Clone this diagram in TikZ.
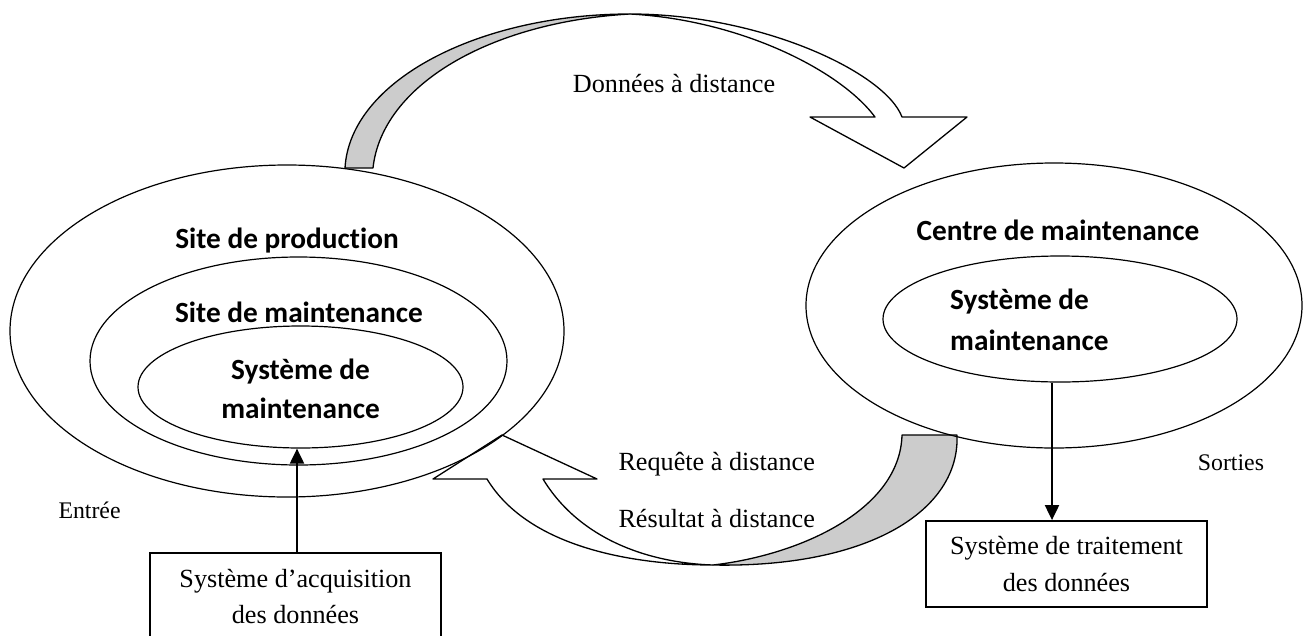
\documentclass[tikz,border=0pt]{standalone}
\usepackage{fontspec}
\setmainfont{Liberation Serif}
\newfontfamily\calibfont[Ligatures=NoCommon]{Carlito}
\usetikzlibrary{arrows.meta,shapes.geometric}
\definecolor{bandgray}{RGB}{204,204,204}
\begin{document}
\begin{tikzpicture}[x=1pt,y=-1pt,
  zone/.style={draw,ellipse,line width=1.2pt,inner sep=0pt},
  zonelabel/.style={font=\calibfont\bfseries\fontsize{29.3}{40}\selectfont,inner sep=0pt},
  note/.style={font=\fontsize{26.2}{36}\selectfont,inner sep=0pt},
  smallnote/.style={font=\fontsize{23.8}{30}\selectfont,inner sep=0pt},
  sysbox/.style={draw,line width=1.8pt,align=center,inner sep=0pt,font=\fontsize{26.2}{36.3}\selectfont},
  conn/.style={line width=2pt,-{Triangle[length=15pt,width=14pt]}},
  blockarrow/.style={line width=1.3pt,line join=round},
]
\useasboundingbox (0,0) rectangle (1303,635);

% block arrow "Données à distance": shaded back face, then front face with head
\filldraw[blockarrow,fill=bandgray] (345,168) .. controls (350,80) and (480,14) .. (630,14)
  .. controls (490,22) and (382,85) .. (373,168) -- cycle;
\filldraw[blockarrow,fill=white] (630,14) .. controls (760,14) and (885,72) .. (902,117)
  -- (967,117) -- (904,168) -- (810,117) -- (875,117)
  .. controls (840,70) and (740,20) .. (630,14) -- cycle;

% block arrow "Requête / Résultat à distance"
\filldraw[blockarrow,fill=white] (543,479) -- (597,479) -- (502,435) -- (433,479) -- (487,479)
  .. controls (530,550) and (640,565) .. (713,565)
  .. controls (650,563) and (580,540) .. (543,479) -- cycle;
\filldraw[blockarrow,fill=bandgray] (713,565) .. controls (870,568) and (960,510) .. (957,435)
  -- (902,435) .. controls (900,510) and (800,555) .. (713,565) -- cycle;

% nested zones, left side
\node[zone,minimum width=554pt,minimum height=332pt] (prod) at (287,331) {};
\node[zone,minimum width=417pt,minimum height=208pt] (site) at (298.5,361) {};
\node[zone,minimum width=325pt,minimum height=122pt] (sysL) at (300.5,387) {};

% nested zones, right side
\node[zone,minimum width=496pt,minimum height=285pt] (centre) at (1054,305.5) {};
\node[zone,minimum width=354pt,minimum height=126pt] (sysR) at (1060,319) {};

% zone labels
\node[zonelabel,anchor=base] (prodT) at (287,248) {Site de production};
\node[zonelabel,anchor=base] (siteT) at (299,322.7) {Site de maintenance};
\node[zonelabel,anchor=base] (sysLa) at (300.5,379) {Système de};
\node[zonelabel,anchor=base] (sysLb) at (300.5,418) {maintenance};
\node[zonelabel,anchor=base] (centreT) at (1058,240.7) {Centre de maintenance};
\node[zonelabel,anchor=base west] (sysRa) at (950,309.3) {Système de};
\node[zonelabel,anchor=base west] (sysRb) at (950,350) {maintenance};

% flow labels
\node[note,anchor=base west] (donnees) at (572.7,92.3) {Données à distance};
\node[note,anchor=base west] (requete) at (618.3,470.7) {Requête à distance};
\node[note,anchor=base west] (resultat) at (618.3,527.7) {Résultat à distance};
\node[smallnote,anchor=base west] (entree) at (58.3,518.3) {Entrée};
\node[smallnote,anchor=base west] (sorties) at (1197.7,470) {Sorties};

% input / output systems
\node[sysbox,minimum width=291pt,minimum height=87pt] (acq) at (295.5,596.5)
  {Système d’acquisition\\des données};
\node[sysbox,minimum width=281pt,minimum height=86pt] (trait) at (1066.5,564)
  {Système de traitement\\des données};

% connectors
\draw[conn] ([xshift=1.5pt]acq.north) -- ([xshift=1.5pt]acq.north |- sysL.south);
\draw[conn] ([xshift=-8pt]sysR.south) -- ([xshift=-8pt]sysR.south |- trait.north);
\end{tikzpicture}
\end{document}
